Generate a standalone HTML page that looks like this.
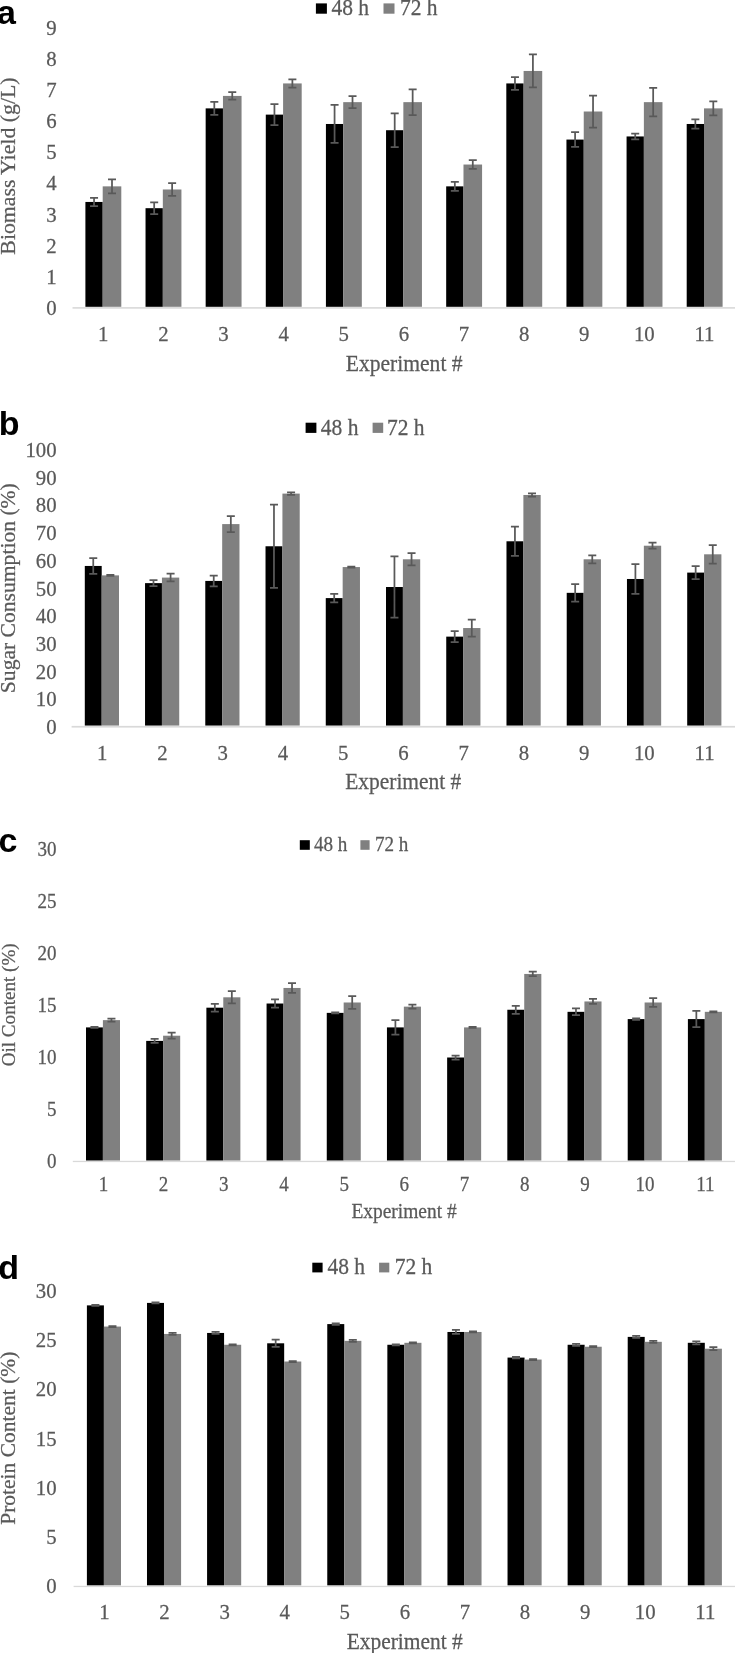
<!DOCTYPE html>
<html><head><meta charset="utf-8"><title>Figure</title>
<style>
html,body{margin:0;padding:0;background:#fff;}
body{width:735px;height:1653px;overflow:hidden;}
svg{display:block;will-change:transform;}
.t text{font-family:"Liberation Serif",serif;fill:#595959;stroke:#595959;stroke-width:0.25px;}
.lab{font-family:"Liberation Sans",sans-serif;font-weight:bold;fill:#000;}
.err{fill:none;stroke:#595959;stroke-width:1.75;}
</style></head>
<body>
<svg width="735" height="1653" viewBox="0 0 735 1653">
<rect width="735" height="1653" fill="#fff"/>
<g>
<rect x="85.4" y="201.95" width="17.3" height="104.85" fill="#000000"/>
<rect x="102.7" y="186.36" width="18.6" height="120.44" fill="#808080"/>
<rect x="145.53" y="208.19" width="17.3" height="98.61" fill="#000000"/>
<rect x="162.83" y="189.48" width="18.6" height="117.32" fill="#808080"/>
<rect x="205.66" y="108.38" width="17.3" height="198.42" fill="#000000"/>
<rect x="222.96" y="95.91" width="18.6" height="210.89" fill="#808080"/>
<rect x="265.79" y="114.62" width="17.3" height="192.18" fill="#000000"/>
<rect x="283.09" y="83.43" width="18.6" height="223.37" fill="#808080"/>
<rect x="325.92" y="123.98" width="17.3" height="182.82" fill="#000000"/>
<rect x="343.22" y="102.15" width="18.6" height="204.65" fill="#808080"/>
<rect x="386.05" y="130.22" width="17.3" height="176.58" fill="#000000"/>
<rect x="403.35" y="102.15" width="18.6" height="204.65" fill="#808080"/>
<rect x="446.18" y="186.36" width="17.3" height="120.44" fill="#000000"/>
<rect x="463.48" y="164.53" width="18.6" height="142.27" fill="#808080"/>
<rect x="506.31" y="83.43" width="17.3" height="223.37" fill="#000000"/>
<rect x="523.61" y="70.96" width="18.6" height="235.84" fill="#808080"/>
<rect x="566.44" y="139.57" width="17.3" height="167.23" fill="#000000"/>
<rect x="583.74" y="111.5" width="18.6" height="195.3" fill="#808080"/>
<rect x="626.57" y="136.45" width="17.3" height="170.35" fill="#000000"/>
<rect x="643.87" y="102.15" width="18.6" height="204.65" fill="#808080"/>
<rect x="686.7" y="123.98" width="17.3" height="182.82" fill="#000000"/>
<rect x="704" y="108.38" width="18.6" height="198.42" fill="#808080"/>
<rect x="72.5" y="307.1" width="662.5" height="1.6" fill="#d9d9d9"/>
<rect x="315.9" y="3.4" width="11" height="10.3" fill="#000000"/>
<rect x="383.5" y="3.4" width="11" height="10.3" fill="#808080"/>
</g>
<path class="err" d="M94.05 197.8V206.1M90.05 197.8H98.05M90.05 206.1H98.05M112 179.36V193.36M108 179.36H116M108 193.36H116M154.18 202.29V214.09M150.18 202.29H158.18M150.18 214.09H158.18M172.13 183.18V195.78M168.13 183.18H176.13M168.13 195.78H176.13M214.31 101.88V114.88M210.31 101.88H218.31M210.31 114.88H218.31M232.26 92.21V99.61M228.26 92.21H236.26M228.26 99.61H236.26M274.44 104.02V125.22M270.44 104.02H278.44M270.44 125.22H278.44M292.39 79.33V87.53M288.39 79.33H296.39M288.39 87.53H296.39M334.57 104.98V142.98M330.57 104.98H338.57M330.57 142.98H338.57M352.52 96.15V108.15M348.52 96.15H356.52M348.52 108.15H356.52M394.7 113.42V147.02M390.7 113.42H398.7M390.7 147.02H398.7M412.65 89.25V115.05M408.65 89.25H416.65M408.65 115.05H416.65M454.83 181.76V190.96M450.83 181.76H458.83M450.83 190.96H458.83M472.78 160.13V168.93M468.78 160.13H476.78M468.78 168.93H476.78M514.96 77.03V89.83M510.96 77.03H518.96M510.96 89.83H518.96M532.91 54.46V87.46M528.91 54.46H536.91M528.91 87.46H536.91M575.09 132.17V146.97M571.09 132.17H579.09M571.09 146.97H579.09M593.04 95.5V127.5M589.04 95.5H597.04M589.04 127.5H597.04M635.22 133.65V139.25M631.22 133.65H639.22M631.22 139.25H639.22M653.17 87.85V116.45M649.17 87.85H657.17M649.17 116.45H657.17M695.35 119.38V128.58M691.35 119.38H699.35M691.35 128.58H699.35M713.3 101.38V115.38M709.3 101.38H717.3M709.3 115.38H717.3"/>
<g class="t">
<text transform="matrix(1 0 0 1.05 56.6 315.21)" font-size="20.8" text-anchor="end">0</text>
<text transform="matrix(1 0 0 1.05 56.6 284.02)" font-size="20.8" text-anchor="end">1</text>
<text transform="matrix(1 0 0 1.05 56.6 252.83)" font-size="20.8" text-anchor="end">2</text>
<text transform="matrix(1 0 0 1.05 56.6 221.64)" font-size="20.8" text-anchor="end">3</text>
<text transform="matrix(1 0 0 1.05 56.6 190.45)" font-size="20.8" text-anchor="end">4</text>
<text transform="matrix(1 0 0 1.05 56.6 159.26)" font-size="20.8" text-anchor="end">5</text>
<text transform="matrix(1 0 0 1.05 56.6 128.07)" font-size="20.8" text-anchor="end">6</text>
<text transform="matrix(1 0 0 1.05 56.6 96.88)" font-size="20.8" text-anchor="end">7</text>
<text transform="matrix(1 0 0 1.05 56.6 65.69)" font-size="20.8" text-anchor="end">8</text>
<text transform="matrix(1 0 0 1.05 56.6 34.5)" font-size="20.8" text-anchor="end">9</text>
<text transform="matrix(1 0 0 1.05 103.2 340.81)" font-size="20.8" text-anchor="middle">1</text>
<text transform="matrix(1 0 0 1.05 163.33 340.81)" font-size="20.8" text-anchor="middle">2</text>
<text transform="matrix(1 0 0 1.05 223.46 340.81)" font-size="20.8" text-anchor="middle">3</text>
<text transform="matrix(1 0 0 1.05 283.59 340.81)" font-size="20.8" text-anchor="middle">4</text>
<text transform="matrix(1 0 0 1.05 343.72 340.81)" font-size="20.8" text-anchor="middle">5</text>
<text transform="matrix(1 0 0 1.05 403.85 340.81)" font-size="20.8" text-anchor="middle">6</text>
<text transform="matrix(1 0 0 1.05 463.98 340.81)" font-size="20.8" text-anchor="middle">7</text>
<text transform="matrix(1 0 0 1.05 524.11 340.81)" font-size="20.8" text-anchor="middle">8</text>
<text transform="matrix(1 0 0 1.05 584.24 340.81)" font-size="20.8" text-anchor="middle">9</text>
<text transform="matrix(1 0 0 1.05 644.37 340.81)" font-size="20.8" text-anchor="middle">10</text>
<text transform="matrix(1 0 0 1.05 704.5 340.81)" font-size="20.8" text-anchor="middle">11</text>
<text transform="matrix(1 0 0 1.05 404.15 370.8)" font-size="21.6" text-anchor="middle">Experiment #</text>
<text transform="matrix(0 -1 1 0 15.3 166.05)" font-size="21.8" text-anchor="middle">Biomass Yield (g/L)</text>
<text transform="matrix(1 0 0 1.05 331.4 15.2)" font-size="21.5">48 h</text>
<text transform="matrix(1 0 0 1.05 399.9 15.2)" font-size="21.5">72 h</text>
</g>
<text class="lab" x="-2.9" y="23.7" font-size="34">a</text>
<g>
<rect x="84.8" y="565.95" width="16.9" height="159.65" fill="#000000"/>
<rect x="101.7" y="575.37" width="17.3" height="150.23" fill="#808080"/>
<rect x="145.04" y="583.13" width="16.9" height="142.47" fill="#000000"/>
<rect x="161.94" y="577.59" width="17.3" height="148.01" fill="#808080"/>
<rect x="205.28" y="580.92" width="16.9" height="144.68" fill="#000000"/>
<rect x="222.18" y="524.09" width="17.3" height="201.51" fill="#808080"/>
<rect x="265.52" y="546.27" width="16.9" height="179.33" fill="#000000"/>
<rect x="282.42" y="493.6" width="17.3" height="232" fill="#808080"/>
<rect x="325.76" y="598.1" width="16.9" height="127.5" fill="#000000"/>
<rect x="342.66" y="567.06" width="17.3" height="158.54" fill="#808080"/>
<rect x="386" y="587.01" width="16.9" height="138.59" fill="#000000"/>
<rect x="402.9" y="559.29" width="17.3" height="166.31" fill="#808080"/>
<rect x="446.24" y="636.63" width="16.9" height="88.97" fill="#000000"/>
<rect x="463.14" y="628.04" width="17.3" height="97.56" fill="#808080"/>
<rect x="506.48" y="541.28" width="16.9" height="184.32" fill="#000000"/>
<rect x="523.38" y="494.98" width="17.3" height="230.62" fill="#808080"/>
<rect x="566.72" y="592.84" width="16.9" height="132.76" fill="#000000"/>
<rect x="583.62" y="559.29" width="17.3" height="166.31" fill="#808080"/>
<rect x="626.96" y="578.98" width="16.9" height="146.62" fill="#000000"/>
<rect x="643.86" y="545.71" width="17.3" height="179.89" fill="#808080"/>
<rect x="687.2" y="572.6" width="16.9" height="153" fill="#000000"/>
<rect x="704.1" y="554.3" width="17.3" height="171.3" fill="#808080"/>
<rect x="71.6" y="725.9" width="663.4" height="1.7" fill="#d9d9d9"/>
<rect x="305.6" y="422.7" width="10.8" height="10.2" fill="#000000"/>
<rect x="372.6" y="422.7" width="10.6" height="10.2" fill="#808080"/>
</g>
<path class="err" d="M93.25 558.15V573.75M89.25 558.15H97.25M89.25 573.75H97.25M110.35 574.87V575.87M106.35 574.87H114.35M106.35 575.87H114.35M153.49 580.23V586.03M149.49 580.23H157.49M149.49 586.03H157.49M170.59 573.69V581.49M166.59 573.69H174.59M166.59 581.49H174.59M213.73 575.52V586.32M209.73 575.52H217.73M209.73 586.32H217.73M230.83 516.09V532.09M226.83 516.09H234.83M226.83 532.09H234.83M273.97 504.57V587.97M269.97 504.57H277.97M269.97 587.97H277.97M291.07 492.4V494.8M287.07 492.4H295.07M287.07 494.8H295.07M334.21 593.8V602.4M330.21 593.8H338.21M330.21 602.4H338.21M351.31 566.56V567.56M347.31 566.56H355.31M347.31 567.56H355.31M394.45 556.41V617.61M390.45 556.41H398.45M390.45 617.61H398.45M411.55 553.19V565.39M407.55 553.19H415.55M407.55 565.39H415.55M454.69 631.03V642.23M450.69 631.03H458.69M450.69 642.23H458.69M471.79 619.54V636.54M467.79 619.54H475.79M467.79 636.54H475.79M514.93 526.68V555.88M510.93 526.68H518.93M510.93 555.88H518.93M532.03 493.28V496.68M528.03 493.28H536.03M528.03 496.68H536.03M575.17 584.04V601.64M571.17 584.04H579.17M571.17 601.64H579.17M592.27 555.29V563.29M588.27 555.29H596.27M588.27 563.29H596.27M635.41 564.18V593.78M631.41 564.18H639.41M631.41 593.78H639.41M652.51 542.71V548.71M648.51 542.71H656.51M648.51 548.71H656.51M695.65 566.1V579.1M691.65 566.1H699.65M691.65 579.1H699.65M712.75 545V563.6M708.75 545H716.75M708.75 563.6H716.75"/>
<g class="t">
<text transform="matrix(1 0 0 1.05 56.6 734.21)" font-size="20.8" text-anchor="end">0</text>
<text transform="matrix(1 0 0 1.05 56.6 706.49)" font-size="20.8" text-anchor="end">10</text>
<text transform="matrix(1 0 0 1.05 56.6 678.77)" font-size="20.8" text-anchor="end">20</text>
<text transform="matrix(1 0 0 1.05 56.6 651.05)" font-size="20.8" text-anchor="end">30</text>
<text transform="matrix(1 0 0 1.05 56.6 623.33)" font-size="20.8" text-anchor="end">40</text>
<text transform="matrix(1 0 0 1.05 56.6 595.61)" font-size="20.8" text-anchor="end">50</text>
<text transform="matrix(1 0 0 1.05 56.6 567.89)" font-size="20.8" text-anchor="end">60</text>
<text transform="matrix(1 0 0 1.05 56.6 540.17)" font-size="20.8" text-anchor="end">70</text>
<text transform="matrix(1 0 0 1.05 56.6 512.45)" font-size="20.8" text-anchor="end">80</text>
<text transform="matrix(1 0 0 1.05 56.6 484.73)" font-size="20.8" text-anchor="end">90</text>
<text transform="matrix(1 0 0 1.05 56.6 457.01)" font-size="20.8" text-anchor="end">100</text>
<text transform="matrix(1 0 0 1.05 102.2 760.01)" font-size="20.8" text-anchor="middle">1</text>
<text transform="matrix(1 0 0 1.05 162.44 760.01)" font-size="20.8" text-anchor="middle">2</text>
<text transform="matrix(1 0 0 1.05 222.68 760.01)" font-size="20.8" text-anchor="middle">3</text>
<text transform="matrix(1 0 0 1.05 282.92 760.01)" font-size="20.8" text-anchor="middle">4</text>
<text transform="matrix(1 0 0 1.05 343.16 760.01)" font-size="20.8" text-anchor="middle">5</text>
<text transform="matrix(1 0 0 1.05 403.4 760.01)" font-size="20.8" text-anchor="middle">6</text>
<text transform="matrix(1 0 0 1.05 463.64 760.01)" font-size="20.8" text-anchor="middle">7</text>
<text transform="matrix(1 0 0 1.05 523.88 760.01)" font-size="20.8" text-anchor="middle">8</text>
<text transform="matrix(1 0 0 1.05 584.12 760.01)" font-size="20.8" text-anchor="middle">9</text>
<text transform="matrix(1 0 0 1.05 644.36 760.01)" font-size="20.8" text-anchor="middle">10</text>
<text transform="matrix(1 0 0 1.05 704.6 760.01)" font-size="20.8" text-anchor="middle">11</text>
<text transform="matrix(1 0 0 1.05 403.25 789)" font-size="21.45" text-anchor="middle">Experiment #</text>
<text transform="matrix(0 -1 1 0 15.3 588.2)" font-size="21.6" text-anchor="middle">Sugar Consumption (%)</text>
<text transform="matrix(1 0 0 1.05 320.8 434.5)" font-size="21.5">48 h</text>
<text transform="matrix(1 0 0 1.05 387 434.5)" font-size="21.5">72 h</text>
</g>
<text class="lab" x="-1.3" y="434.6" font-size="34">b</text>
<g>
<rect x="86" y="1027.4" width="16.9" height="133.2" fill="#000000"/>
<rect x="102.9" y="1020.13" width="17.1" height="140.47" fill="#808080"/>
<rect x="146.19" y="1040.89" width="16.9" height="119.71" fill="#000000"/>
<rect x="163.09" y="1035.7" width="17.1" height="124.9" fill="#808080"/>
<rect x="206.38" y="1007.68" width="16.9" height="152.92" fill="#000000"/>
<rect x="223.28" y="997.3" width="17.1" height="163.3" fill="#808080"/>
<rect x="266.57" y="1003.52" width="16.9" height="157.08" fill="#000000"/>
<rect x="283.47" y="987.95" width="17.1" height="172.65" fill="#808080"/>
<rect x="326.76" y="1012.87" width="16.9" height="147.73" fill="#000000"/>
<rect x="343.66" y="1002.49" width="17.1" height="158.11" fill="#808080"/>
<rect x="386.95" y="1027.4" width="16.9" height="133.2" fill="#000000"/>
<rect x="403.85" y="1006.64" width="17.1" height="153.96" fill="#808080"/>
<rect x="447.14" y="1057.5" width="16.9" height="103.1" fill="#000000"/>
<rect x="464.04" y="1027.4" width="17.1" height="133.2" fill="#808080"/>
<rect x="507.33" y="1009.75" width="16.9" height="150.85" fill="#000000"/>
<rect x="524.23" y="973.94" width="17.1" height="186.66" fill="#808080"/>
<rect x="567.52" y="1011.83" width="16.9" height="148.77" fill="#000000"/>
<rect x="584.42" y="1001.45" width="17.1" height="159.15" fill="#808080"/>
<rect x="627.71" y="1019.09" width="16.9" height="141.51" fill="#000000"/>
<rect x="644.61" y="1002.49" width="17.1" height="158.11" fill="#808080"/>
<rect x="687.9" y="1019.09" width="16.9" height="141.51" fill="#000000"/>
<rect x="704.8" y="1011.83" width="17.1" height="148.77" fill="#808080"/>
<rect x="72.8" y="1160.8" width="662.2" height="1.3" fill="#d9d9d9"/>
<rect x="299.8" y="840.2" width="10" height="9.6" fill="#000000"/>
<rect x="360.4" y="840.2" width="9.2" height="9.6" fill="#808080"/>
</g>
<path class="err" d="M94.45 1026.9V1027.9M90.45 1026.9H98.45M90.45 1027.9H98.45M111.45 1018.63V1021.63M107.45 1018.63H115.45M107.45 1021.63H115.45M154.64 1038.89V1042.89M150.64 1038.89H158.64M150.64 1042.89H158.64M171.64 1032.7V1038.7M167.64 1032.7H175.64M167.64 1038.7H175.64M214.83 1003.78V1011.58M210.83 1003.78H218.83M210.83 1011.58H218.83M231.83 991.2V1003.4M227.83 991.2H235.83M227.83 1003.4H235.83M275.02 999.42V1007.62M271.02 999.42H279.02M271.02 1007.62H279.02M292.02 983.15V992.75M288.02 983.15H296.02M288.02 992.75H296.02M335.21 1012.37V1013.37M331.21 1012.37H339.21M331.21 1013.37H339.21M352.21 996.19V1008.79M348.21 996.19H356.21M348.21 1008.79H356.21M395.4 1020.1V1034.7M391.4 1020.1H399.4M391.4 1034.7H399.4M412.4 1004.64V1008.64M408.4 1004.64H416.4M408.4 1008.64H416.4M455.59 1055.5V1059.5M451.59 1055.5H459.59M451.59 1059.5H459.59M472.59 1026.9V1027.9M468.59 1026.9H476.59M468.59 1027.9H476.59M515.78 1005.75V1013.75M511.78 1005.75H519.78M511.78 1013.75H519.78M532.78 971.74V976.14M528.78 971.74H536.78M528.78 976.14H536.78M575.97 1008.43V1015.23M571.97 1008.43H579.97M571.97 1015.23H579.97M592.97 998.95V1003.95M588.97 998.95H596.97M588.97 1003.95H596.97M636.16 1018.39V1019.79M632.16 1018.39H640.16M632.16 1019.79H640.16M653.16 998.19V1006.79M649.16 998.19H657.16M649.16 1006.79H657.16M696.35 1010.99V1027.19M692.35 1010.99H700.35M692.35 1027.19H700.35M713.35 1011.33V1012.33M709.35 1011.33H717.35M709.35 1012.33H717.35"/>
<g class="t">
<text transform="matrix(1 0 0 1.05 56.6 1167.88)" font-size="19" text-anchor="end">0</text>
<text transform="matrix(1 0 0 1.05 56.6 1115.98)" font-size="19" text-anchor="end">5</text>
<text transform="matrix(1 0 0 1.05 56.6 1064.08)" font-size="19" text-anchor="end">10</text>
<text transform="matrix(1 0 0 1.05 56.6 1012.18)" font-size="19" text-anchor="end">15</text>
<text transform="matrix(1 0 0 1.05 56.6 960.28)" font-size="19" text-anchor="end">20</text>
<text transform="matrix(1 0 0 1.05 56.6 908.38)" font-size="19" text-anchor="end">25</text>
<text transform="matrix(1 0 0 1.05 56.6 856.48)" font-size="19" text-anchor="end">30</text>
<text transform="matrix(1 0 0 1.05 103.4 1190.88)" font-size="19" text-anchor="middle">1</text>
<text transform="matrix(1 0 0 1.05 163.59 1190.88)" font-size="19" text-anchor="middle">2</text>
<text transform="matrix(1 0 0 1.05 223.78 1190.88)" font-size="19" text-anchor="middle">3</text>
<text transform="matrix(1 0 0 1.05 283.97 1190.88)" font-size="19" text-anchor="middle">4</text>
<text transform="matrix(1 0 0 1.05 344.16 1190.88)" font-size="19" text-anchor="middle">5</text>
<text transform="matrix(1 0 0 1.05 404.35 1190.88)" font-size="19" text-anchor="middle">6</text>
<text transform="matrix(1 0 0 1.05 464.54 1190.88)" font-size="19" text-anchor="middle">7</text>
<text transform="matrix(1 0 0 1.05 524.73 1190.88)" font-size="19" text-anchor="middle">8</text>
<text transform="matrix(1 0 0 1.05 584.92 1190.88)" font-size="19" text-anchor="middle">9</text>
<text transform="matrix(1 0 0 1.05 645.11 1190.88)" font-size="19" text-anchor="middle">10</text>
<text transform="matrix(1 0 0 1.05 705.3 1190.88)" font-size="19" text-anchor="middle">11</text>
<text transform="matrix(1 0 0 1.05 404.05 1217.6)" font-size="19.45" text-anchor="middle">Experiment #</text>
<text transform="matrix(0 -1 1 0 14.9 1004.8)" font-size="19.1" text-anchor="middle">Oil Content (%)</text>
<text transform="matrix(1 0 0 1.05 313.9 851)" font-size="19.1">48 h</text>
<text transform="matrix(1 0 0 1.05 375 851)" font-size="19.1">72 h</text>
</g>
<text class="lab" x="-1.4" y="852.4" font-size="34">c</text>
<g>
<rect x="86.9" y="1305.38" width="17" height="280.03" fill="#000000"/>
<rect x="103.9" y="1326.55" width="17.1" height="258.85" fill="#808080"/>
<rect x="146.99" y="1302.91" width="17" height="282.49" fill="#000000"/>
<rect x="163.99" y="1333.94" width="17.1" height="251.46" fill="#808080"/>
<rect x="207.08" y="1332.95" width="17" height="252.45" fill="#000000"/>
<rect x="224.08" y="1344.77" width="17.1" height="240.63" fill="#808080"/>
<rect x="267.17" y="1343.3" width="17" height="242.1" fill="#000000"/>
<rect x="284.17" y="1361.52" width="17.1" height="223.88" fill="#808080"/>
<rect x="327.26" y="1324.09" width="17" height="261.31" fill="#000000"/>
<rect x="344.26" y="1340.84" width="17.1" height="244.57" fill="#808080"/>
<rect x="387.35" y="1344.77" width="17" height="240.63" fill="#000000"/>
<rect x="404.35" y="1342.8" width="17.1" height="242.6" fill="#808080"/>
<rect x="447.44" y="1331.97" width="17" height="253.43" fill="#000000"/>
<rect x="464.44" y="1331.97" width="17.1" height="253.43" fill="#808080"/>
<rect x="507.53" y="1357.58" width="17" height="227.82" fill="#000000"/>
<rect x="524.53" y="1359.55" width="17.1" height="225.85" fill="#808080"/>
<rect x="567.62" y="1344.77" width="17" height="240.63" fill="#000000"/>
<rect x="584.62" y="1346.74" width="17.1" height="238.66" fill="#808080"/>
<rect x="627.71" y="1336.89" width="17" height="248.51" fill="#000000"/>
<rect x="644.71" y="1341.82" width="17.1" height="243.58" fill="#808080"/>
<rect x="687.8" y="1342.8" width="17" height="242.6" fill="#000000"/>
<rect x="704.8" y="1348.71" width="17.1" height="236.69" fill="#808080"/>
<rect x="73.6" y="1585.8" width="661.4" height="1.3" fill="#d9d9d9"/>
<rect x="312.3" y="1262.7" width="10.3" height="9.7" fill="#000000"/>
<rect x="379.1" y="1262.7" width="10.2" height="9.7" fill="#808080"/>
</g>
<path class="err" d="M95.4 1304.88V1305.88M91.4 1304.88H99.4M91.4 1305.88H99.4M112.45 1326.05V1327.05M108.45 1326.05H116.45M108.45 1327.05H116.45M155.49 1302.41V1303.41M151.49 1302.41H159.49M151.49 1303.41H159.49M172.54 1332.94V1334.94M168.54 1332.94H176.54M168.54 1334.94H176.54M215.58 1331.95V1333.95M211.58 1331.95H219.58M211.58 1333.95H219.58M232.63 1344.27V1345.27M228.63 1344.27H236.63M228.63 1345.27H236.63M275.67 1339.7V1346.9M271.67 1339.7H279.67M271.67 1346.9H279.67M292.72 1361.02V1362.02M288.72 1361.02H296.72M288.72 1362.02H296.72M335.76 1323.29V1324.89M331.76 1323.29H339.76M331.76 1324.89H339.76M352.81 1339.84V1341.84M348.81 1339.84H356.81M348.81 1341.84H356.81M395.85 1344.27V1345.27M391.85 1344.27H399.85M391.85 1345.27H399.85M412.9 1342.3V1343.3M408.9 1342.3H416.9M408.9 1343.3H416.9M455.94 1329.97V1333.97M451.94 1329.97H459.94M451.94 1333.97H459.94M472.99 1331.47V1332.47M468.99 1331.47H476.99M468.99 1332.47H476.99M516.03 1356.78V1358.38M512.03 1356.78H520.03M512.03 1358.38H520.03M533.08 1359.05V1360.05M529.08 1359.05H537.08M529.08 1360.05H537.08M576.12 1343.77V1345.77M572.12 1343.77H580.12M572.12 1345.77H580.12M593.17 1346.24V1347.24M589.17 1346.24H597.17M589.17 1347.24H597.17M636.21 1335.89V1337.89M632.21 1335.89H640.21M632.21 1337.89H640.21M653.26 1340.82V1342.82M649.26 1340.82H657.26M649.26 1342.82H657.26M696.3 1341.3V1344.3M692.3 1341.3H700.3M692.3 1344.3H700.3M713.35 1347.21V1350.21M709.35 1347.21H717.35M709.35 1350.21H717.35"/>
<g class="t">
<text transform="matrix(1 0 0 1.05 56.6 1593.31)" font-size="20.8" text-anchor="end">0</text>
<text transform="matrix(1 0 0 1.05 56.6 1544.06)" font-size="20.8" text-anchor="end">5</text>
<text transform="matrix(1 0 0 1.05 56.6 1494.81)" font-size="20.8" text-anchor="end">10</text>
<text transform="matrix(1 0 0 1.05 56.6 1445.56)" font-size="20.8" text-anchor="end">15</text>
<text transform="matrix(1 0 0 1.05 56.6 1396.31)" font-size="20.8" text-anchor="end">20</text>
<text transform="matrix(1 0 0 1.05 56.6 1347.06)" font-size="20.8" text-anchor="end">25</text>
<text transform="matrix(1 0 0 1.05 56.6 1297.81)" font-size="20.8" text-anchor="end">30</text>
<text transform="matrix(1 0 0 1.05 104.4 1618.91)" font-size="20.8" text-anchor="middle">1</text>
<text transform="matrix(1 0 0 1.05 164.49 1618.91)" font-size="20.8" text-anchor="middle">2</text>
<text transform="matrix(1 0 0 1.05 224.58 1618.91)" font-size="20.8" text-anchor="middle">3</text>
<text transform="matrix(1 0 0 1.05 284.67 1618.91)" font-size="20.8" text-anchor="middle">4</text>
<text transform="matrix(1 0 0 1.05 344.76 1618.91)" font-size="20.8" text-anchor="middle">5</text>
<text transform="matrix(1 0 0 1.05 404.85 1618.91)" font-size="20.8" text-anchor="middle">6</text>
<text transform="matrix(1 0 0 1.05 464.94 1618.91)" font-size="20.8" text-anchor="middle">7</text>
<text transform="matrix(1 0 0 1.05 525.03 1618.91)" font-size="20.8" text-anchor="middle">8</text>
<text transform="matrix(1 0 0 1.05 585.12 1618.91)" font-size="20.8" text-anchor="middle">9</text>
<text transform="matrix(1 0 0 1.05 645.21 1618.91)" font-size="20.8" text-anchor="middle">10</text>
<text transform="matrix(1 0 0 1.05 705.3 1618.91)" font-size="20.8" text-anchor="middle">11</text>
<text transform="matrix(1 0 0 1.05 404.7 1648.9)" font-size="21.45" text-anchor="middle">Experiment #</text>
<text transform="matrix(0 -1 1 0 15.3 1438.2)" font-size="21.5" text-anchor="middle">Protein Content (%)</text>
<text transform="matrix(1 0 0 1.05 327.4 1273.9)" font-size="21.5">48 h</text>
<text transform="matrix(1 0 0 1.05 394.7 1273.9)" font-size="21.5">72 h</text>
</g>
<text class="lab" x="-1.7" y="1278.9" font-size="34">d</text>
</svg>
</body></html>
